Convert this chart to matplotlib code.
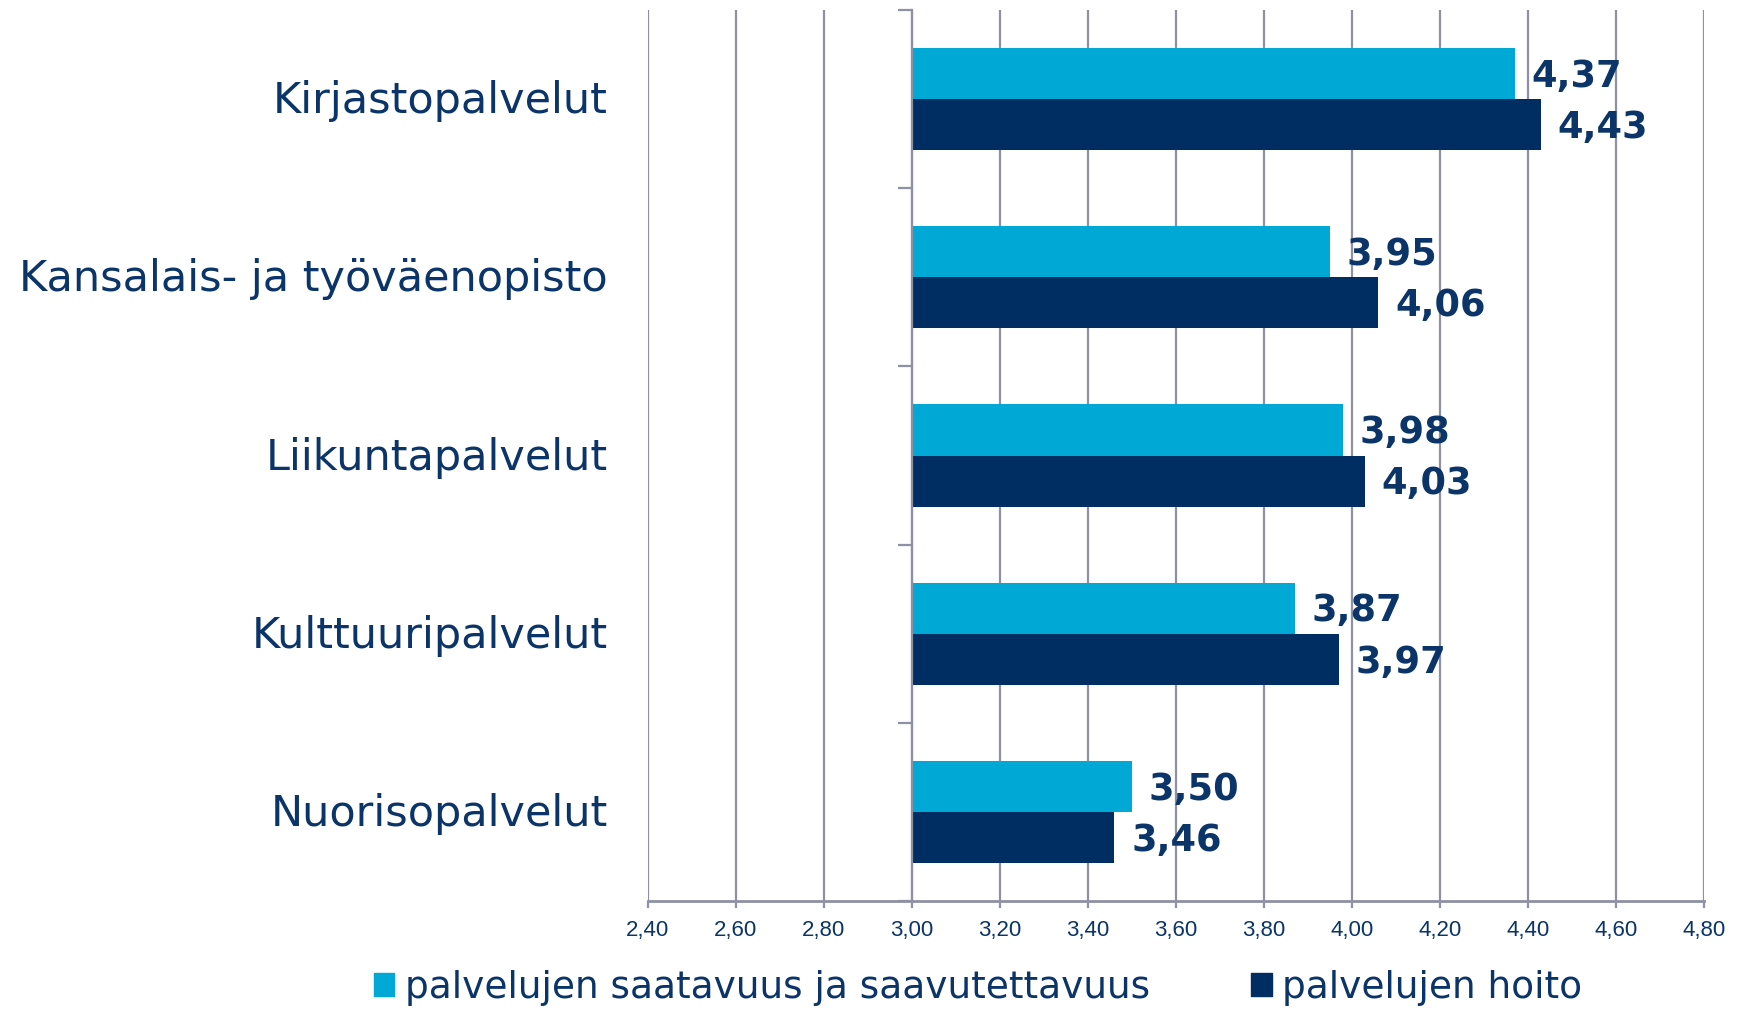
import numpy as np
import matplotlib.pyplot as plt
from matplotlib.patches import Patch

categories = ["Kirjastopalvelut", "Kansalais- ja työväenopisto", "Liikuntapalvelut",
              "Kulttuuripalvelut", "Nuorisopalvelut"]
saatavuus = [4.37, 3.95, 3.98, 3.87, 3.50]
hoito = [4.43, 4.06, 4.03, 3.97, 3.46]
series_names = ["palvelujen saatavuus ja saavutettavuus", "palvelujen hoito"]
xticks = [2.40, 2.60, 2.80, 3.00, 3.20, 3.40, 3.60, 3.80, 4.00, 4.20, 4.40, 4.60, 4.80]
base = 3.0

cyan = "#00a8d6"
navy = "#002d62"
txt = "#0b3468"
grid = "#8d91a3"

fig = plt.figure(figsize=(17.4, 10.1), dpi=100)
ax = fig.add_axes([0.3724, 0.1079, 0.6069, 0.8822])

y = np.arange(len(categories))
h = 0.287
v1 = np.array(saatavuus)
v2 = np.array(hoito)
ax.barh(y - h / 2, v1 - base, left=base, height=h, color=cyan, zorder=3)
ax.barh(y + h / 2, v2 - base, left=base, height=h, color=navy, zorder=3)

ax.set_xlim(xticks[0], xticks[-1])
ax.set_ylim(len(categories) - 0.5, -0.5)

for t in xticks:
    ax.axvline(t, color=grid, lw=1.6, zorder=1)

for s in ["top", "right"]:
    ax.spines[s].set_visible(False)
ax.spines["left"].set_position(("data", base))
ax.spines["left"].set_color(grid)
ax.spines["left"].set_linewidth(1.6)
ax.spines["left"].set_zorder(4)
ax.spines["bottom"].set_color(grid)
ax.spines["bottom"].set_linewidth(2)

ax.set_yticks(np.arange(len(categories) + 1) - 0.5)
ax.set_yticklabels([])
ax.tick_params(axis="y", length=10, width=1.6, color=grid)
ax.set_xticks(xticks)
ax.set_xticklabels([f"{t:.2f}".replace(".", ",") for t in xticks],
                   fontsize=16, color=txt, family="Liberation Sans")
ax.tick_params(axis="x", length=5, width=1.6, color=grid, pad=9)

# category labels at the left
for i, c in enumerate(categories):
    ax.annotate(c, xy=(0, i), xycoords=("axes fraction", "data"),
                xytext=(-29, -1.5), textcoords="offset points",
                ha="right", va="center", fontsize=31, color=txt)

# value labels
for i in range(len(categories)):
    ax.annotate(f"{v1[i]:.2f}".replace(".", ","), xy=(v1[i], i - h / 2),
                xytext=(12, -2), textcoords="offset points",
                ha="left", va="center", fontsize=26.5, fontweight="bold", color=txt)
    ax.annotate(f"{v2[i]:.2f}".replace(".", ","), xy=(v2[i], i + h / 2),
                xytext=(12, -2), textcoords="offset points",
                ha="left", va="center", fontsize=26.5, fontweight="bold", color=txt)

handles = [Patch(color=cyan), Patch(color=navy)]
leg = fig.legend(handles, series_names, loc="center", bbox_to_anchor=(0.562, 0.022),
                 ncol=2, frameon=False, fontsize=27, handlelength=0.55, handleheight=0.6,
                 handletextpad=0.28, columnspacing=2.7, labelcolor=txt)

fig.savefig("out.png", dpi=100)
